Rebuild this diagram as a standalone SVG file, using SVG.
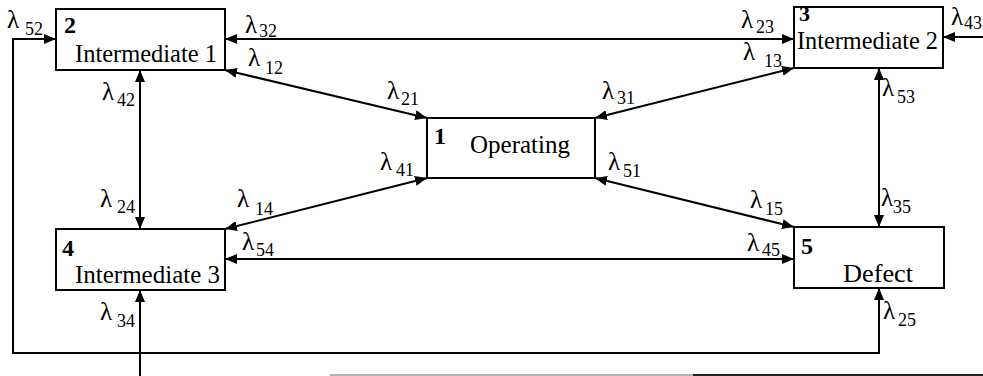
<svg xmlns="http://www.w3.org/2000/svg" width="983" height="376" viewBox="0 0 983 376">
<style>
.box{fill:#fff;stroke:#000;stroke-width:2}
.num{font-family:'Liberation Serif','Times New Roman','DejaVu Serif',serif;font-weight:bold;font-size:24px;fill:#000}
.name{font-family:'Liberation Serif','Times New Roman','DejaVu Serif',serif;font-size:26px;fill:#000}
.lam{font-family:'Liberation Serif','Times New Roman','DejaVu Serif',serif;font-size:25px;fill:#000}
.sub{font-size:18px}
.c{fill:none;stroke:#000;stroke-width:2}
</style>
<defs>
<marker id="ah" viewBox="0 0 12 10" refX="12" refY="5" markerWidth="12" markerHeight="10" orient="auto-start-reverse" markerUnits="userSpaceOnUse"><path d="M0,0 L12,5 L0,10 z" fill="#000"/></marker>
</defs>
<rect width="983" height="376" fill="#fff"/>
<g id="connectors">
<line class="c" x1="225" y1="39" x2="794" y2="39" marker-start="url(#ah)" marker-end="url(#ah)"/>
<line class="c" x1="983" y1="37" x2="943" y2="37" marker-end="url(#ah)"/>
<line class="c" x1="225" y1="70" x2="427" y2="118" marker-start="url(#ah)" marker-end="url(#ah)"/>
<line class="c" x1="794" y1="68" x2="595" y2="118" marker-start="url(#ah)" marker-end="url(#ah)"/>
<line class="c" x1="225" y1="229" x2="427" y2="178" marker-start="url(#ah)" marker-end="url(#ah)"/>
<line class="c" x1="595" y1="178" x2="794" y2="227" marker-start="url(#ah)" marker-end="url(#ah)"/>
<line class="c" x1="225" y1="259" x2="794" y2="259" marker-start="url(#ah)" marker-end="url(#ah)"/>
<line class="c" x1="140" y1="70" x2="140" y2="229" marker-start="url(#ah)" marker-end="url(#ah)"/>
<line class="c" x1="879" y1="68" x2="879" y2="227" marker-start="url(#ah)" marker-end="url(#ah)"/>
<polyline class="c" points="879,288 879,353 13,353 13,39 56,39" marker-start="url(#ah)" marker-end="url(#ah)"/>
<line class="c" x1="140" y1="376" x2="140" y2="290" marker-end="url(#ah)"/>
<line x1="330" y1="375" x2="693" y2="375" stroke="#999" stroke-width="1.5"/>
<line x1="693" y1="375" x2="983" y2="375" stroke="#222" stroke-width="2"/>
</g>
<g id="node2">
<rect class="box" x="56" y="9" width="169" height="61"/>
<text class="num" x="64" y="33">2</text>
<text class="name" x="75" y="62" textLength="142" lengthAdjust="spacingAndGlyphs">Intermediate 1</text>
</g>
<g id="node3">
<rect class="box" x="794" y="7" width="149" height="61"/>
<text class="num" x="799" y="21" style="font-size:22px">3</text>
<text class="name" x="797" y="49" textLength="141" lengthAdjust="spacingAndGlyphs">Intermediate 2</text>
</g>
<g id="node1">
<rect class="box" x="427" y="118" width="168" height="60"/>
<text class="num" x="434" y="144">1</text>
<text class="name" x="470" y="153" textLength="100" lengthAdjust="spacingAndGlyphs">Operating</text>
</g>
<g id="node4">
<rect class="box" x="56" y="229" width="169" height="61"/>
<text class="num" x="62" y="256">4</text>
<text class="name" x="75" y="283" textLength="145" lengthAdjust="spacingAndGlyphs">Intermediate 3</text>
</g>
<g id="node5">
<rect class="box" x="794" y="227" width="150" height="61"/>
<text class="num" x="801" y="254">5</text>
<text class="name" x="843" y="282" textLength="70" lengthAdjust="spacingAndGlyphs">Defect</text>
</g>
<g id="labels">
<text class="lam" x="7" y="28">λ<tspan class="sub" x="25" y="35">52</tspan></text>
<text class="lam" x="245" y="33">λ<tspan class="sub" x="259" y="37">32</tspan></text>
<text class="lam" x="248" y="66">λ<tspan class="sub" x="265" y="74">12</tspan></text>
<text class="lam" x="102" y="100">λ<tspan class="sub" x="117" y="106">42</tspan></text>
<text class="lam" x="387" y="99">λ<tspan class="sub" x="401" y="105">21</tspan></text>
<text class="lam" x="741" y="28">λ<tspan class="sub" x="756" y="33">23</tspan></text>
<text class="lam" x="743" y="60">λ<tspan class="sub" x="764" y="67">13</tspan></text>
<text class="lam" x="602" y="99">λ<tspan class="sub" x="617" y="104">31</tspan></text>
<text class="lam" x="951" y="25">λ<tspan class="sub" x="964" y="29">43</tspan></text>
<text class="lam" x="882" y="96">λ<tspan class="sub" x="897" y="103">53</tspan></text>
<text class="lam" x="380" y="170">λ<tspan class="sub" x="396" y="176">41</tspan></text>
<text class="lam" x="608" y="170">λ<tspan class="sub" x="623" y="177">51</tspan></text>
<text class="lam" x="100" y="207">λ<tspan class="sub" x="117" y="213">24</tspan></text>
<text class="lam" x="237" y="207">λ<tspan class="sub" x="255" y="215">14</tspan></text>
<text class="lam" x="242" y="250">λ<tspan class="sub" x="256" y="256">54</tspan></text>
<text class="lam" x="750" y="208">λ<tspan class="sub" x="765" y="215">15</tspan></text>
<text class="lam" x="747" y="251">λ<tspan class="sub" x="762" y="256">45</tspan></text>
<text class="lam" x="881" y="206">λ<tspan class="sub" x="893" y="213">35</tspan></text>
<text class="lam" x="883" y="319">λ<tspan class="sub" x="898" y="326">25</tspan></text>
<text class="lam" x="100" y="320">λ<tspan class="sub" x="117" y="327">34</tspan></text>
</g>
</svg>
